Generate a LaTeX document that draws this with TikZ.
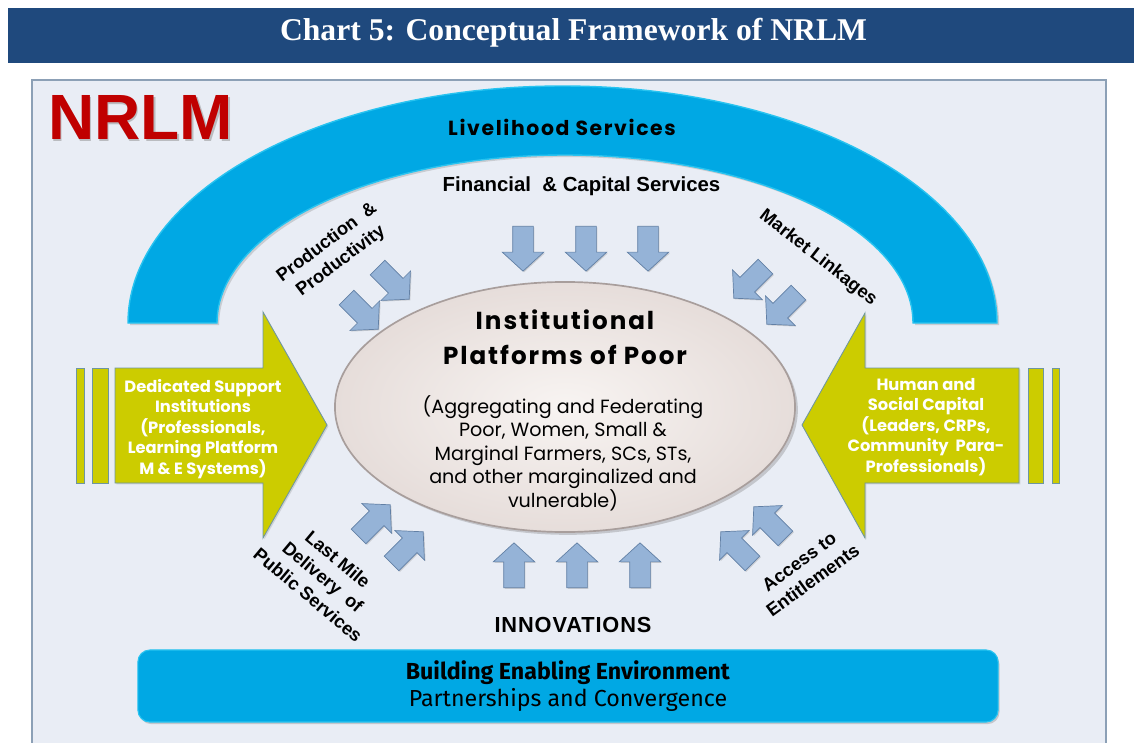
\documentclass[tikz,border=0pt]{standalone}
\usepackage{fontspec}
\setmainfont{Liberation Serif}
\newfontfamily\gothic{Poppins}
\newfontfamily\gothicwide[LetterSpace=8]{Poppins}
\newfontfamily\arial{Liberation Sans}
\newfontfamily\arialwide[LetterSpace=4]{Liberation Sans}
\newfontfamily\twcen{Fira Sans}
\usepackage{xcolor}
\usetikzlibrary{shapes,shapes.arrows,shadows}
\definecolor{titleblue}{RGB}{31,73,125}
\definecolor{panel}{RGB}{233,237,245}
\definecolor{panelline}{RGB}{140,160,182}
\definecolor{skyblue}{RGB}{0,168,228}
\definecolor{archrim}{RGB}{40,195,240}
\definecolor{supportgreen}{RGB}{204,204,0}
\definecolor{supportline}{RGB}{110,150,160}
\definecolor{arrowfill}{RGB}{149,179,215}
\definecolor{arrowline}{RGB}{98,128,165}
\definecolor{nrlmred}{RGB}{192,0,0}
\definecolor{ellipsein}{RGB}{248,244,242}
\definecolor{ellipseout}{RGB}{230,221,218}
\definecolor{ellipseline}{RGB}{168,158,156}

\begin{document}
\begin{tikzpicture}[x=0.025cm, y=-0.025cm,
    smallarrow/.style={single arrow, draw=arrowline, fill=arrowfill, line width=0.5pt,
      minimum height=1.12cm, minimum width=1.02cm, inner xsep=0pt, inner ysep=0.25cm,
      single arrow head extend=0.26cm, single arrow tip angle=95,
      drop shadow={opacity=0.3, shadow xshift=0.8pt, shadow yshift=-0.8pt}},
    bigarrow/.style={fill=supportgreen, draw=supportline, line width=0.6pt,
      drop shadow={opacity=0.25, shadow xshift=1pt, shadow yshift=-1pt}},
    sidetext/.style={text=white, font=\gothic\bfseries\fontsize{11.6}{14.6}\selectfont, align=center},
    slanted/.style={font=\arial\bfseries\fontsize{13}{16.5}\selectfont, align=center}]
  \useasboundingbox (0,0) rectangle (1134,743);

  % heading
  \fill[titleblue] (8,8) rectangle (1134,63);
  \node[text=white, font=\bfseries\fontsize{22.5}{27}\selectfont, anchor=base] (title) at (573.5,40)
    {Chart 5: Conceptual Framework of NRLM};

  % frame
  \draw[panelline, fill=panel, line width=1.5pt] (32,80) rectangle (1106,770);
  \node[text=black!45, opacity=0.5, font=\arial\bfseries\fontsize{45.5}{48}\selectfont, anchor=west, inner sep=0pt]
    at (49.5,119) {NRLM};
  \node[text=nrlmred, font=\arial\bfseries\fontsize{45.5}{48}\selectfont, anchor=west, inner sep=0pt] (nrlm) at (48,117.5) {NRLM};

  % arch of livelihood services
  \draw[fill=skyblue, draw=archrim, line width=1pt,
    drop shadow={opacity=0.3, shadow xshift=1.5pt, shadow yshift=-1.5pt}]
    (128,323) arc[start angle=180, end angle=360, x radius=434.5, y radius=237]
    -- (913,323) arc[start angle=0, end angle=-180, x radius=348, y radius=168] -- cycle;
  \node[font=\gothicwide\bfseries\fontsize{14.5}{16}\selectfont] (livelihood) at (562,127) {Livelihood Services};

  % side arrows
  \draw[bigarrow] (115,368) -- (263,368) -- (263,312) -- (327,425) -- (263,538) -- (263,483) -- (115,483) -- cycle;
  \draw[bigarrow] (76,368) rectangle (84,483);
  \draw[bigarrow] (92,368) rectangle (108,483);
  \draw[bigarrow] (1019,368) -- (865,368) -- (865,313) -- (802,425) -- (865,538) -- (865,483) -- (1019,483) -- cycle;
  \draw[bigarrow] (1028,368) rectangle (1043,483);
  \draw[bigarrow] (1052,368) rectangle (1059,483);
  \node[sidetext] (support) at (203,429)
    {Dedicated Support\\Institutions\\(Professionals,\\Learning Platform\\M \& E Systems)};
  \node[sidetext] (capital) at (926,427)
    {Human and\\Social Capital\\(Leaders, CRPs,\\Community\ \ Para-\\Professionals)};

  % centre
  \node[ellipse, minimum width=11.5cm, minimum height=6.25cm, inner sep=0pt,
    draw=ellipseline, line width=1.2pt, inner color=ellipsein, outer color=ellipseout,
    drop shadow={opacity=0.35, shadow xshift=2pt, shadow yshift=-2pt}] (poor) at (565,407) {};
  \node[font=\gothicwide\bfseries\fontsize{17.5}{24.8}\selectfont, align=center] (poortitle) at (565,337)
    {Institutional\\Platforms of Poor};
  \node[font=\gothic\fontsize{13.6}{16.7}\selectfont, align=center] (poortext) at (563,453)
    {(Aggregating and Federating\\Poor, Women, Small \&\\Marginal Farmers, SCs, STs,\\and other marginalized and\\vulnerable)};

  % inputs
  \node[font=\arial\bfseries\fontsize{14.5}{16}\selectfont] (finance) at (581.5,186) {Financial\ \ \& Capital Services};
  \foreach \x/\n in {523/fin1, 586/fin2, 648/fin3}
    \node[smallarrow, rotate=-90] (\n) at (\x,244) {};
  \foreach \x/\n in {514/inn1, 577/inn2, 640/inn3}
    \node[smallarrow, rotate=90] (\n) at (\x,570) {};
  \node[font=\arialwide\bfseries\fontsize{15.5}{17}\selectfont] (innovations) at (573,625) {INNOVATIONS};

  \node[smallarrow, rotate=-45] (prod1) at (390,280) {};
  \node[smallarrow, rotate=-45] (prod2) at (359,310) {};
  \node[slanted, rotate=37] (production) at (334,252) {Production\ \ \&\\Productivity};

  \node[smallarrow, rotate=-135] (mkt1) at (753,279) {};
  \node[smallarrow, rotate=-135] (mkt2) at (786,305) {};
  \node[slanted, rotate=-38] (market) at (818,258) {Market Linkages};

  \node[smallarrow, rotate=45] (last1) at (371,524) {};
  \node[smallarrow, rotate=45] (last2) at (404,551) {};
  \node[slanted, rotate=-40] (lastmile) at (323,577) {Last Mile\\Delivery\ \ of\\Public Services};

  \node[smallarrow, rotate=135] (acc1) at (740,551) {};
  \node[smallarrow, rotate=135] (acc2) at (773,526) {};
  \node[slanted, rotate=36] (access) at (806,571) {Access to\\Entitlements};

  % enabling environment
  \node[fill=skyblue, draw=archrim, line width=0.8pt, rounded corners=0.3cm,
    minimum width=21.5cm, minimum height=1.8cm, align=center,
    font=\twcen\fontsize{16.5}{18.6}\selectfont,
    drop shadow={opacity=0.35, shadow xshift=1pt, shadow yshift=-1.5pt}] (enabling) at (568,686)
    {\textbf{Building Enabling Environment}\\Partnerships and Convergence};
\end{tikzpicture}
\end{document}
